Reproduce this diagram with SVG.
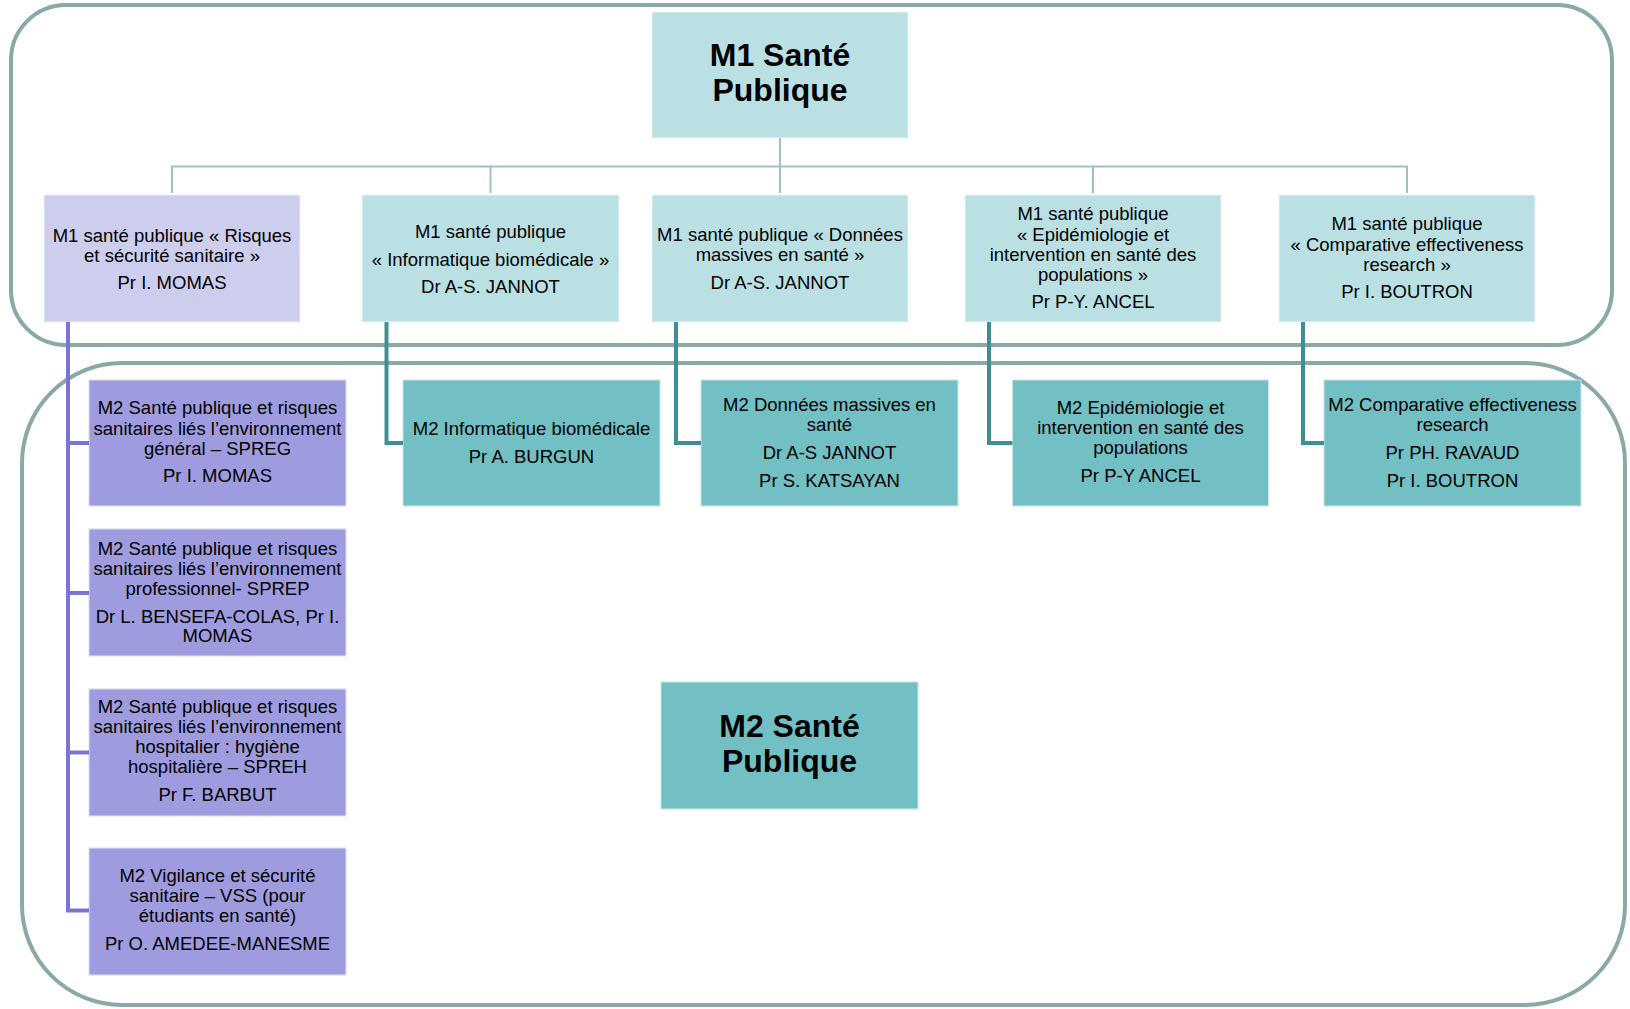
<svg xmlns="http://www.w3.org/2000/svg" width="1630" height="1009" viewBox="0 0 1630 1009">
<style>
text{font-family:"Liberation Sans",Arial,sans-serif;font-size:18.5px;fill:#000;text-anchor:middle}
.big{font-size:32px;font-weight:bold}
.frame{fill:none;stroke:#8BA8A9;stroke-width:4}
.m1{fill:#BAE0E4;stroke:#EAF6F7;stroke-width:1}
.m1l{fill:#CDCDEE;stroke:#EEEEFA;stroke-width:1}
.m2{fill:#72BFC4;stroke:#C8E8EA;stroke-width:1}
.m2l{fill:#9E9CDF;stroke:#DCDCF5;stroke-width:1}
.tree{fill:none;stroke:#9EC1C5;stroke-width:2}
.ct{fill:none;stroke:#3E8E93;stroke-width:4}
.cl{fill:none;stroke:#7A74D2;stroke-width:4}
</style>
<rect class="frame" x="11" y="5" width="1601" height="340" rx="55" ry="55"/>
<rect class="frame" x="22" y="363" width="1603" height="642" rx="100" ry="100"/>

<g id="m1-root"><rect class="m1" x="652" y="12" width="256" height="126"/>
<text class="big" x="780" y="66">M1 Santé</text><text class="big" x="780" y="101">Publique</text></g>

<g id="m1-risques"><rect class="m1l" x="44" y="195" width="256" height="127"/>
<text x="172" y="241.5">M1 santé publique « Risques</text><text x="172" y="261.5">et sécurité sanitaire »</text><text x="172" y="289">Pr I. MOMAS</text></g>

<g id="m1-info"><rect class="m1" x="362" y="195" width="257" height="127"/>
<text x="490.5" y="237.5">M1 santé publique</text><text x="490.5" y="265.5">« Informatique biomédicale »</text><text x="490.5" y="293">Dr A-S. JANNOT</text></g>

<g id="m1-donnees"><rect class="m1" x="652" y="195" width="256" height="127"/>
<text x="780" y="241">M1 santé publique « Données</text><text x="780" y="261">massives en santé »</text><text x="780" y="288.5">Dr A-S. JANNOT</text></g>

<g id="m1-epi"><rect class="m1" x="965" y="195" width="256" height="127"/>
<text x="1093" y="220">M1 santé publique</text><text x="1093" y="240.5">« Epidémiologie et</text><text x="1093" y="260.5">intervention en santé des</text><text x="1093" y="280.5">populations »</text><text x="1093" y="308">Pr P-Y. ANCEL</text></g>

<g id="m1-cer"><rect class="m1" x="1279" y="195" width="256" height="127"/>
<text x="1407" y="230">M1 santé publique</text><text x="1407" y="250.5">« Comparative effectiveness</text><text x="1407" y="270.5">research »</text><text x="1407" y="298">Pr I. BOUTRON</text></g>

<g id="m2-spreg"><rect class="m2l" x="89" y="380" width="257" height="126"/>
<text x="217.5" y="414">M2 Santé publique et risques</text><text x="217.5" y="434.5">sanitaires liés l’environnement</text><text x="217.5" y="454.5">général – SPREG</text><text x="217.5" y="482">Pr I. MOMAS</text></g>

<g id="m2-sprep"><rect class="m2l" x="89" y="529" width="257" height="127"/>
<text x="217.5" y="555">M2 Santé publique et risques</text><text x="217.5" y="575">sanitaires liés l’environnement</text><text x="217.5" y="595">professionnel- SPREP</text><text x="217.5" y="622.5">Dr L. BENSEFA-COLAS, Pr I.</text><text x="217.5" y="642">MOMAS</text></g>

<g id="m2-spreh"><rect class="m2l" x="89" y="689" width="257" height="127"/>
<text x="217.5" y="713">M2 Santé publique et risques</text><text x="217.5" y="733">sanitaires liés l’environnement</text><text x="217.5" y="753">hospitalier : hygiène</text><text x="217.5" y="773">hospitalière – SPREH</text><text x="217.5" y="800.5">Pr F. BARBUT</text></g>

<g id="m2-vss"><rect class="m2l" x="89" y="848" width="257" height="127"/>
<text x="217.5" y="882">M2 Vigilance et sécurité</text><text x="217.5" y="902">sanitaire – VSS (pour</text><text x="217.5" y="922">étudiants en santé)</text><text x="217.5" y="949.5">Pr O. AMEDEE-MANESME</text></g>

<g id="m2-info"><rect class="m2" x="403" y="380" width="257" height="126"/>
<text x="531.5" y="435">M2 Informatique biomédicale</text><text x="531.5" y="462.5">Pr A. BURGUN</text></g>

<g id="m2-donnees"><rect class="m2" x="701" y="380" width="257" height="126"/>
<text x="829.5" y="410.5">M2 Données massives en</text><text x="829.5" y="430.5">santé</text><text x="829.5" y="458.5">Dr A-S JANNOT</text><text x="829.5" y="486.5">Pr S. KATSAYAN</text></g>

<g id="m2-epi"><rect class="m2" x="1012.5" y="380" width="256" height="126"/>
<text x="1140.5" y="414">M2 Epidémiologie et</text><text x="1140.5" y="434">intervention en santé des</text><text x="1140.5" y="454">populations</text><text x="1140.5" y="481.5">Pr P-Y ANCEL</text></g>

<g id="m2-cer"><rect class="m2" x="1324" y="380" width="257" height="126"/>
<text x="1452.5" y="410.5">M2 Comparative effectiveness</text><text x="1452.5" y="430.5">research</text><text x="1452.5" y="458.5">Pr PH. RAVAUD</text><text x="1452.5" y="486.5">Pr I. BOUTRON</text></g>

<g id="m2-root"><rect class="m2" x="661" y="682" width="257" height="127"/>
<text class="big" x="789.5" y="737">M2 Santé</text><text class="big" x="789.5" y="771.5">Publique</text></g>

<g id="connectors">
<path class="tree" d="M780 138V193M172 193V166.5H1407V193M490.5 166.5V193M1093 166.5V193"/>
<path class="cl" d="M68 322V912.5M66 443H89M66 593H89M66 752.5H89M66 910.5H89"/>
<path class="ct" d="M386.5 322V443H403M676 322V443H701M989 322V443H1012.5M1303 322V443H1324"/>
</g>
</svg>
